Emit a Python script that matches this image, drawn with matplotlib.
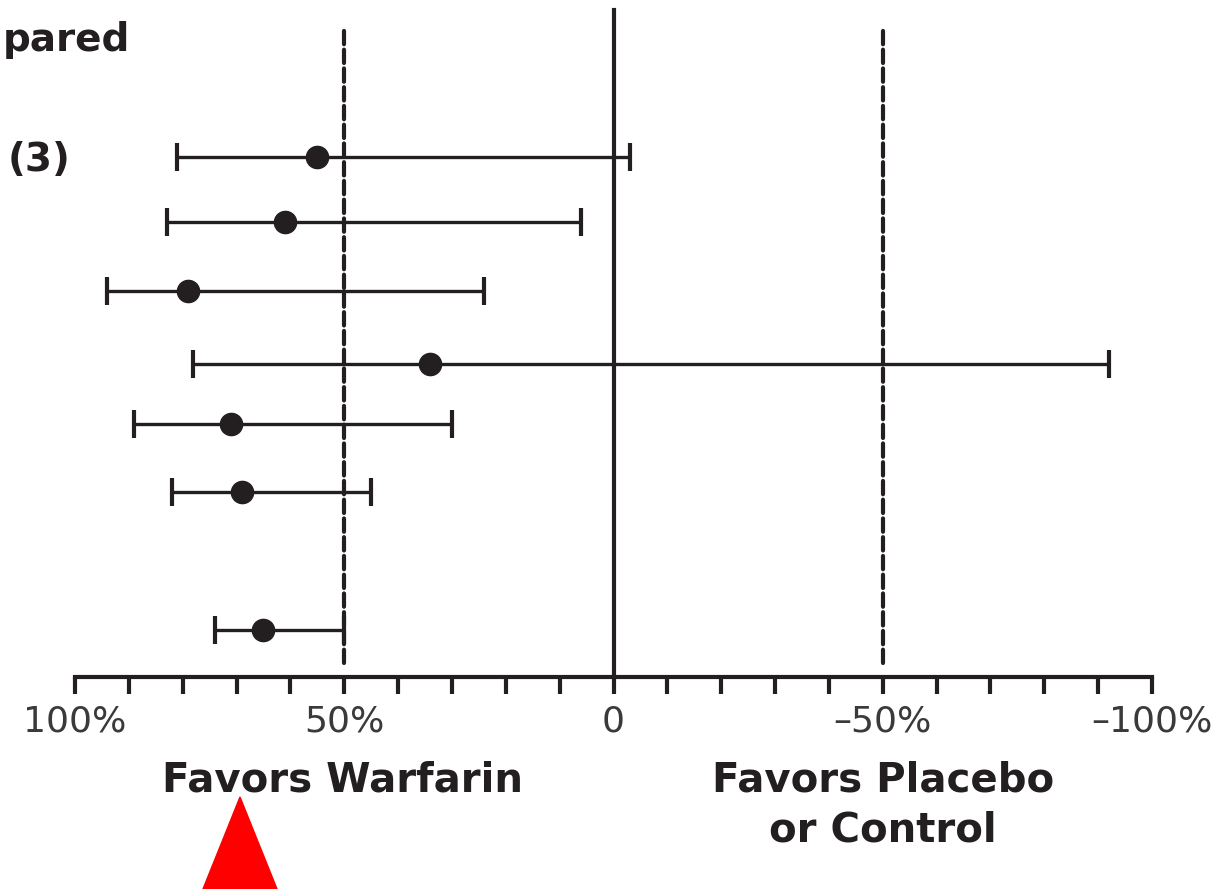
import numpy as np
import matplotlib
matplotlib.use("Agg")
import matplotlib.pyplot as plt
from matplotlib.patches import Polygon

# relative risk reduction (%) per trial, with 95% CI
rows = [1.0, 1.96, 2.97, 4.04, 4.93, 5.93, 7.96]
point = [55, 61, 79, 34, 71, 69, 65]
ci_low = [81, 83, 94, 78, 89, 82, 74]
ci_high = [-3, 6, 24, -92, 30, 45, 50]

tick_vals = [100, 50, 0, -50, -100]
tick_labels = ["100%", "50%", "0", "\u201350%", "\u2013100%"]
minor_vals = np.arange(-100, 101, 10)

W, H = 1224, 889
fig = plt.figure(figsize=(W / 100, H / 100), dpi=100)
fig.set_facecolor("white")
ax = fig.add_axes([75 / W, (H - 677) / H, (1152 - 75) / W, 677 / H])

ink = "#231f20"
point = np.array(point)
# axis is reversed: lower data value = ci_high side
err = [point - np.array(ci_high), np.array(ci_low) - point]
ax.errorbar(point, rows, xerr=err, fmt="o", color=ink, ms=16, lw=2.4,
            capsize=10, capthick=3, zorder=3)

ax.set_xlim(100, -100)
ax.set_ylim(8.65, -1.31)

# reference lines
ax.plot([0, 0], [8.65, -1.16], color=ink, lw=3, zorder=2)
for v in [50, -50]:
    ax.plot([v, v], [8.45, -0.87], color=ink, lw=3,
            linestyle=(0, (3.2, 1.3)), dash_capstyle="round", zorder=2)

for s in ["top", "left", "right"]:
    ax.spines[s].set_visible(False)
ax.spines["bottom"].set_linewidth(3)
ax.spines["bottom"].set_color(ink)
ax.set_yticks([])
ax.set_xticks(minor_vals, minor=True)
ax.set_xticks(tick_vals)
ax.set_xticklabels(tick_labels, fontsize=26, color="#3a3a3a")
ax.tick_params(axis="x", which="both", length=12, width=3, color=ink,
               direction="out", pad=8)
ax.set_facecolor("white")

def ftext(x, y, s, **kw):
    fig.text(x / W, 1 - y / H, s, **kw)

ftext(3, 40, "pared", fontsize=28, fontweight="bold", color=ink,
      ha="left", va="center")
ftext(8, 160, "(3)", fontsize=28, fontweight="bold", color=ink,
      ha="left", va="center")
ftext(342, 780, "Favors Warfarin", fontsize=29, fontweight="bold", color=ink,
      ha="center", va="center")
ftext(883, 780, "Favors Placebo", fontsize=29, fontweight="bold", color=ink,
      ha="center", va="center")
ftext(883, 830, "or Control", fontsize=29, fontweight="bold", color=ink,
      ha="center", va="center")

tri = Polygon([(240 / W, 1 - 797 / H), (203 / W, 1 - 889 / H), (277 / W, 1 - 889 / H)],
              closed=True, transform=fig.transFigure, color="#ff0000", zorder=5)
fig.patches.append(tri)

fig.savefig("out.png", dpi=100, facecolor="white")
